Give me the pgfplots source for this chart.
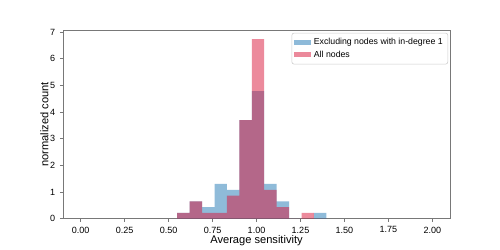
\documentclass[border=0pt]{standalone}
\usepackage{fontspec}
\setmainfont{Liberation Sans}
\usepackage{pgfplots}
\pgfplotsset{compat=1.18}
\definecolor{mblue}{RGB}{31,119,180}
\definecolor{mred}{RGB}{217,21,57}
\definecolor{spine}{RGB}{120,120,120}
\begin{document}
\begin{tikzpicture}
\path[use as bounding box] (-45.4pt,-22.5pt) rectangle (314.6pt,157.5pt);
\begin{axis}[
  at={(0,0)}, anchor=south west,
  scale only axis, width=278.6pt, height=135.9pt,
  xmin=-0.1, xmax=2.1, ymin=0, ymax=7.08,
  xtick={0,0.25,...,2.01}, ytick={0,1,...,7},
  xticklabel style={/pgf/number format/fixed, /pgf/number format/fixed zerofill, /pgf/number format/precision=2},
  /pgf/number format/assume math mode=true,
  tick label style={font=\fontsize{6.5}{7}\selectfont, text=black},
  tick align=outside, tick pos=left,
  major tick length=2.2pt,
  tick style={spine, line width=0.5pt},
  axis line style={spine, line width=0.6pt},
  xlabel={Average sensitivity}, ylabel={normalized count},
  every axis x label/.style={at={(axis description cs:0.5,-0.1177)}, anchor=center, font=\fontsize{8}{9}\selectfont},
  every axis y label/.style={at={(axis description cs:-0.0485,0.5)}, anchor=center, rotate=90, font=\fontsize{8}{9}\selectfont},
  legend style={at={(rel axis cs:0.995,0.985)}, anchor=north east, font=\fontsize{6.3}{7.3}\selectfont,
    draw=black!20, rounded corners=1.5pt, inner sep=1.6pt, row sep=-1pt},
  legend cell align=left,
  legend image code/.code={\fill[#1, sharp corners] (0pt,-1.8pt) rectangle (12.2pt,1.8pt);},
]
\addplot[ybar interval, fill=mblue, fill opacity=0.5, draw=none] coordinates {
(0.5490,0.2175) (0.6197,0.6525) (0.6904,0.435) (0.7611,1.305) (0.8318,1.0875)
(0.9025,3.70) (0.9732,4.785) (1.0439,1.305) (1.1146,0.6525) (1.1853,0)
(1.2560,0) (1.3267,0.2175) (1.3974,0)};
\addlegendentry{Excluding nodes with in-degree 1}
\addplot[ybar interval, fill=mred, fill opacity=0.5, draw=none] coordinates {
(0.5490,0.2175) (0.6197,0.6525) (0.6904,0.2175) (0.7611,0.2175) (0.8318,0.87)
(0.9025,3.70) (0.9732,6.74) (1.0439,1.0875) (1.1146,0.435) (1.1853,0)
(1.2560,0.2175) (1.3267,0) (1.3974,0)};
\addlegendentry{All nodes}
\end{axis}
\end{tikzpicture}
\end{document}
